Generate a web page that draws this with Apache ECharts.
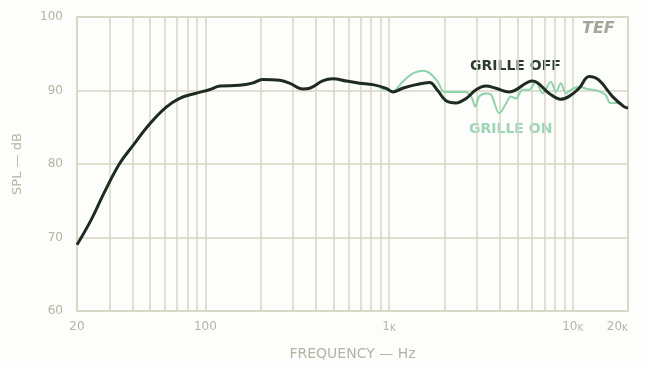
<!DOCTYPE html>
<html>
<head>
<meta charset="utf-8">
<script src="https://cdn.jsdelivr.net/npm/echarts@6/dist/echarts.min.js"></script>
<style>
html,body{margin:0;padding:0;background:#fdfdfb;}
#chart{width:647px;height:366px;}
</style>
</head>
<body>
<div id="chart"></div>
<script>
// Frequency axis (Hz)
var gridFreqs = [20,30,40,50,60,70,80,90,100,200,300,400,500,600,700,800,900,1000,2000,3000,4000,5000,6000,7000,8000,9000,10000,20000];
var labelFreqs = [20,100,1000,10000,20000];
var xTickLabels = ['20','100','1{k|K}','10{k|K}','20{k|K}'];
var yTicks = [60,70,80,90,100];

// GRILLE OFF (dark curve)
var offFreq = [20,24,28,34,40,50,61,72,88,105,120,153,180,205,254,287,340,370,435,495,584,690,816,965,1048,1186,1404,1659,1840,2041,2316,2625,2975,3372,3820,4510,6040,7450,8620,9550,10840,12280,13900,16440,19020,20000];
var offDb   = [69.0,72.5,76.0,80.0,82.4,85.5,87.7,88.9,89.6,90.1,90.6,90.7,91.0,91.5,91.4,91.0,90.2,90.3,91.3,91.6,91.3,91.0,90.8,90.3,89.8,90.3,90.8,91.1,90.0,88.6,88.3,88.9,90.1,90.6,90.3,89.8,91.3,89.6,88.8,89.2,90.3,91.9,91.4,89.2,87.8,87.6];

// GRILLE ON (light green curve)
var onFreq = [887,1048,1186,1340,1523,1659,1840,2000,2300,2600,2800,2950,3100,3372,3600,3980,4330,4600,4900,5330,5800,6300,6860,7600,8110,8620,9200,9800,10840,12000,13500,15100,16000,17500,19000,20000];
var onDb   = [90.4,89.9,91.2,92.3,92.7,92.4,91.2,89.8,89.8,89.8,89.2,87.8,89.2,89.6,89.4,86.9,88.2,89.2,88.9,90.1,90.1,91.2,89.6,91.2,89.8,91.0,89.6,90.1,90.5,90.2,90.0,89.4,88.3,88.3,87.8,87.6];

function pairs(f, d){ return f.map(function(v,i){ return [v, d[i]]; }); }

var gridColor = '#d4d6c4';
var textColor = '#b3b5a4';
var labelMap = {};
labelFreqs.forEach(function(v,i){ labelMap[v] = xTickLabels[i]; });

var chart = echarts.init(document.getElementById('chart'), null, {renderer:'canvas'});
chart.setOption({
  backgroundColor: '#fdfdfb',
  animation: false,
  grid: {left: 77, right: 19, top: 17, bottom: 55, show: true, borderColor: gridColor, borderWidth: 1.5},
  xAxis: {
    type: 'log', logBase: 10, min: 20, max: 20000,
    name: 'FREQUENCY — Hz', nameLocation: 'middle', nameGap: 36,
    nameTextStyle: {color: textColor, fontFamily: 'DejaVu Sans', fontSize: 14},
    axisLine: {show: false},
    axisTick: {show: false, customValues: gridFreqs},
    axisLabel: {
      customValues: labelFreqs, margin: 10, color: textColor, fontFamily: 'DejaVu Sans', fontSize: 12,
      alignMaxLabel: 'right',
      formatter: function(v){ return labelMap[v] !== undefined ? labelMap[v] : ''; },
      rich: {k: {fontSize: 9, color: textColor, fontFamily: 'DejaVu Sans', verticalAlign: 'bottom'}}
    },
    splitLine: {show: true, lineStyle: {color: gridColor, width: 1.5}},
    minorSplitLine: {show: false}
  },
  yAxis: {
    type: 'value', min: 60, max: 100, interval: 10,
    name: 'SPL — dB', nameLocation: 'middle', nameGap: 53, nameRotate: 90,
    nameTextStyle: {color: textColor, fontFamily: 'DejaVu Sans', fontSize: 13},
    axisLine: {show: false}, axisTick: {show: false},
    axisLabel: {margin: 14, color: textColor, fontFamily: 'DejaVu Sans', fontSize: 12},
    splitLine: {show: true, lineStyle: {color: gridColor, width: 1.5}}
  },
  series: [
    {name: 'GRILLE ON', type: 'line', data: pairs(onFreq, onDb), showSymbol: false, smooth: 0.3,
     lineStyle: {color: '#8fd3aa', width: 2}, z: 2},
    {name: 'GRILLE OFF', type: 'line', data: pairs(offFreq, offDb), showSymbol: false, smooth: 0.4,
     lineStyle: {color: '#1e2b20', width: 3}, z: 3}
  ],
  graphic: [
    {type: 'text', left: 582, top: 21, style: {text: 'TEF', fill: '#a3a596', font: 'italic bold 16px "DejaVu Sans"'}},
    {type: 'text', left: 470, top: 59, style: {text: 'GRILLE OFF', fill: '#2b3a2e', font: 'bold 14px "DejaVu Sans"'}},
    {type: 'text', left: 469, top: 122, style: {text: 'GRILLE ON', fill: '#9dd6b6', font: 'bold 14px "DejaVu Sans"'}}
  ]
});
</script>
</body>
</html>
